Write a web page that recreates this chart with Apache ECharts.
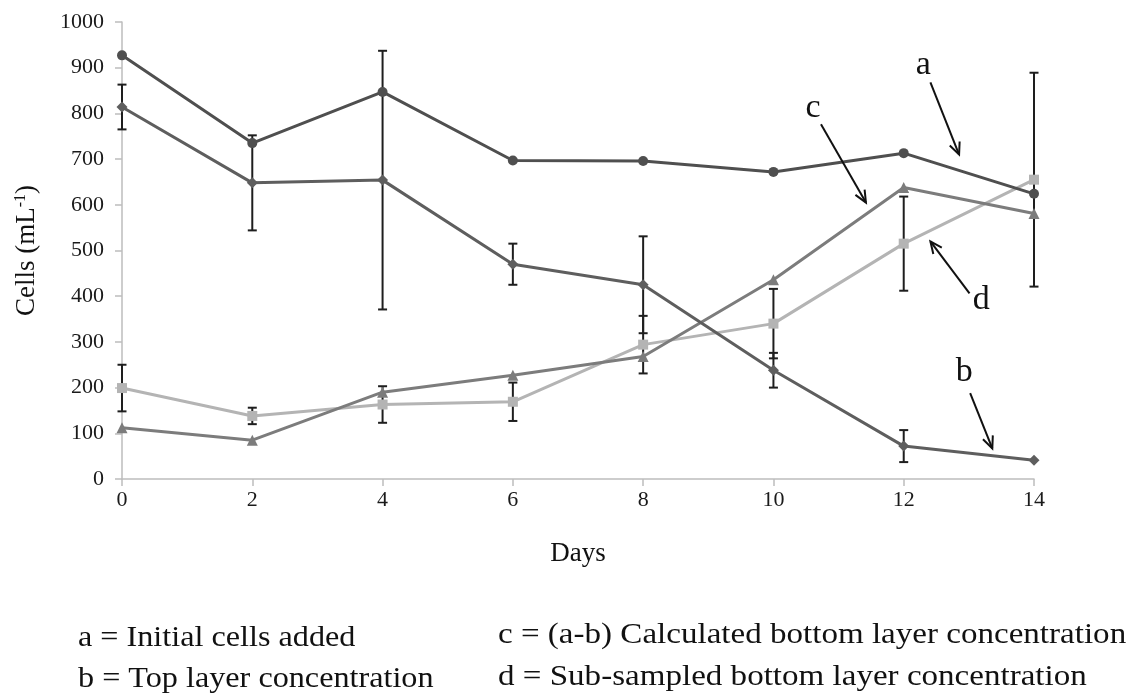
<!DOCTYPE html>
<html>
<head>
<meta charset="utf-8">
<title>Cells over time</title>
<script src="https://cdn.jsdelivr.net/npm/echarts@6/dist/echarts.min.js"></script>
<style>
  html, body { margin: 0; padding: 0; background: #ffffff; }
  #chart { width: 1133px; height: 696px; }
</style>
</head>
<body>
<div id="chart"></div>
<script>
// Sampling days
const days = [0, 2, 4, 6, 8, 10, 12, 14];

// a = initial cells added
const initialCells = [927, 735, 847, 697, 696, 672, 713, 624];
// b = top layer concentration (with standard deviation)
const topLayer = [814, 648, 654, 470, 425, 238, 72, 41];
const topLayerErr = [49, 104, 283, 45, 106, 38, 35, null];
// c = (a-b) calculated bottom layer concentration
const calcBottom = [112, 85, 190, 227, 268, 436, 638, 581];
// d = sub-sampled bottom layer concentration (with standard deviation)
const subBottom = [199, 138, 163, 169, 294, 340, 515, 655];
const subBottomErr = [51, 18, 40, 42, 63, 76, 103, 234];

// Y axis ticks
const yTicks = [0, 100, 200, 300, 400, 500, 600, 700, 800, 900, 1000];

// Curve letters and their arrows, in data units [day, cells]
const letterNames = ['a', 'c', 'd', 'b'];
const letterPos = [[12.30, 868], [10.61, 775], [13.19, 354], [12.93, 196]];
const arrowFrom = [[12.41, 868], [10.73, 776], [13.01, 406], [13.02, 188]];
const arrowTo = [[12.85, 710], [11.42, 605], [12.41, 520], [13.36, 67]];

// Caption lines below the chart
const captionLeft = ['a = Initial cells added', 'b = Top layer concentration'];
const captionRight = ['c = (a-b) Calculated bottom layer concentration', 'd = Sub-sampled bottom layer concentration'];

const SERIF = '"Liberation Serif", "Times New Roman", serif';

function pairs(vals) { return days.map((d, i) => [d, vals[i]]); }
function errRows(vals, errs) {
  const rows = [];
  days.forEach((d, i) => { if (errs[i] != null) rows.push([d, vals[i] - errs[i], vals[i] + errs[i]]); });
  return rows;
}

function renderErrorBar(params, api) {
  const x = api.value(0);
  const lo = api.coord([x, api.value(1)]);
  const hi = api.coord([x, api.value(2)]);
  const w = 4.5;
  const style = { stroke: '#1e1e1e', lineWidth: 2 };
  return {
    type: 'group',
    children: [
      { type: 'line', shape: { x1: hi[0], y1: hi[1], x2: lo[0], y2: lo[1] }, style: style },
      { type: 'line', shape: { x1: hi[0] - w, y1: hi[1], x2: hi[0] + w, y2: hi[1] }, style: style },
      { type: 'line', shape: { x1: lo[0] - w, y1: lo[1], x2: lo[0] + w, y2: lo[1] }, style: style }
    ]
  };
}

const arrowRows = arrowFrom.map((p, i) => [p[0], p[1], arrowTo[i][0], arrowTo[i][1]]);
function renderArrow(params, api) {
  const a = api.coord([api.value(0), api.value(1)]);
  const b = api.coord([api.value(2), api.value(3)]);
  const ang = Math.atan2(b[1] - a[1], b[0] - a[0]);
  const len = 13, spread = 0.42;
  const h1 = [b[0] - len * Math.cos(ang - spread), b[1] - len * Math.sin(ang - spread)];
  const h2 = [b[0] - len * Math.cos(ang + spread), b[1] - len * Math.sin(ang + spread)];
  const style = { stroke: '#111111', lineWidth: 2, fill: null };
  return {
    type: 'group',
    children: [
      { type: 'line', shape: { x1: a[0], y1: a[1], x2: b[0], y2: b[1] }, style: style },
      { type: 'polyline', shape: { points: [h1, b, h2] }, style: style }
    ]
  };
}

function renderLetter(params, api) {
  const p = api.coord([api.value(0), api.value(1)]);
  return {
    type: 'text',
    x: p[0], y: p[1],
    style: {
      text: letterNames[params.dataIndex],
      font: '34px ' + SERIF,
      fill: '#111111',
      align: 'center',
      verticalAlign: 'bottom'
    }
  };
}

const chart = echarts.init(document.getElementById('chart'), null, { renderer: 'canvas' });

const captionEls = [];
captionLeft.forEach((t, i) => captionEls.push({
  type: 'text', x: 78, y: 624 + i * 41, scaleX: 1.11,
  style: { text: t, font: '29px ' + SERIF, fill: '#111111' }
}));
captionRight.forEach((t, i) => captionEls.push({
  type: 'text', x: 498, y: 621 + i * 42, scaleX: 1.14,
  style: { text: t, font: '29px ' + SERIF, fill: '#111111' }
}));

chart.setOption({
  animation: false,
  backgroundColor: '#ffffff',
  grid: { left: 122, right: 99, top: 22, bottom: 217 },
  xAxis: {
    type: 'value', min: 0, max: 14, interval: 2,
    name: 'Days', nameLocation: 'middle', nameGap: 61,
    nameTextStyle: { fontFamily: SERIF, fontSize: 27, color: '#111111' },
    axisLine: { lineStyle: { color: '#bdbdbd', width: 1.5 } },
    axisTick: { show: true, length: 7, lineStyle: { color: '#bdbdbd', width: 1.5 } },
    splitLine: { show: false },
    axisLabel: { fontFamily: SERIF, fontSize: 22, color: '#1a1a1a', margin: 10 }
  },
  yAxis: {
    type: 'value', min: yTicks[0], max: yTicks[yTicks.length - 1], interval: yTicks[1] - yTicks[0],
    name: '{n|Cells (mL}{s|-1}{n|)}', nameLocation: 'middle', nameGap: 82, nameRotate: 90,
    nameTextStyle: {
      rich: {
        n: { fontFamily: SERIF, fontSize: 27, color: '#111111' },
        s: { fontFamily: SERIF, fontSize: 16, color: '#111111', verticalAlign: 'top', padding: [0, 0, 10, 0] }
      }
    },
    axisLine: { show: true, lineStyle: { color: '#bdbdbd', width: 1.5 } },
    axisTick: { show: true, length: 7, lineStyle: { color: '#bdbdbd', width: 1.5 } },
    splitLine: { show: false },
    axisLabel: {
      fontFamily: SERIF, fontSize: 22, color: '#1a1a1a', margin: 18,
      formatter: v => String(v)
    }
  },
  graphic: captionEls,
  series: [
    {
      name: 'b error', type: 'custom', renderItem: renderErrorBar,
      data: errRows(topLayer, topLayerErr), z: 1, silent: true
    },
    {
      name: 'd error', type: 'custom', renderItem: renderErrorBar,
      data: errRows(subBottom, subBottomErr), z: 1, silent: true
    },
    {
      name: 'd', type: 'line', data: pairs(subBottom), z: 2,
      symbol: 'rect', symbolSize: 10, showSymbol: true,
      lineStyle: { color: '#b4b4b4', width: 3 }, itemStyle: { color: '#b4b4b4' }
    },
    {
      name: 'c', type: 'line', data: pairs(calcBottom), z: 3,
      symbol: 'triangle', symbolSize: 11,
      lineStyle: { color: '#7c7c7c', width: 3 }, itemStyle: { color: '#7c7c7c' }
    },
    {
      name: 'b', type: 'line', data: pairs(topLayer), z: 4,
      symbol: 'diamond', symbolSize: 11,
      lineStyle: { color: '#5e5e5e', width: 3 }, itemStyle: { color: '#5e5e5e' }
    },
    {
      name: 'a', type: 'line', data: pairs(initialCells), z: 5,
      symbol: 'circle', symbolSize: 10,
      lineStyle: { color: '#4f4f4f', width: 3 }, itemStyle: { color: '#4f4f4f' }
    },
    {
      name: 'arrows', type: 'custom', renderItem: renderArrow,
      data: arrowRows, z: 6, silent: true
    },
    {
      name: 'letters', type: 'custom', renderItem: renderLetter,
      data: letterPos, z: 6, silent: true
    }
  ]
});
</script>
</body>
</html>
